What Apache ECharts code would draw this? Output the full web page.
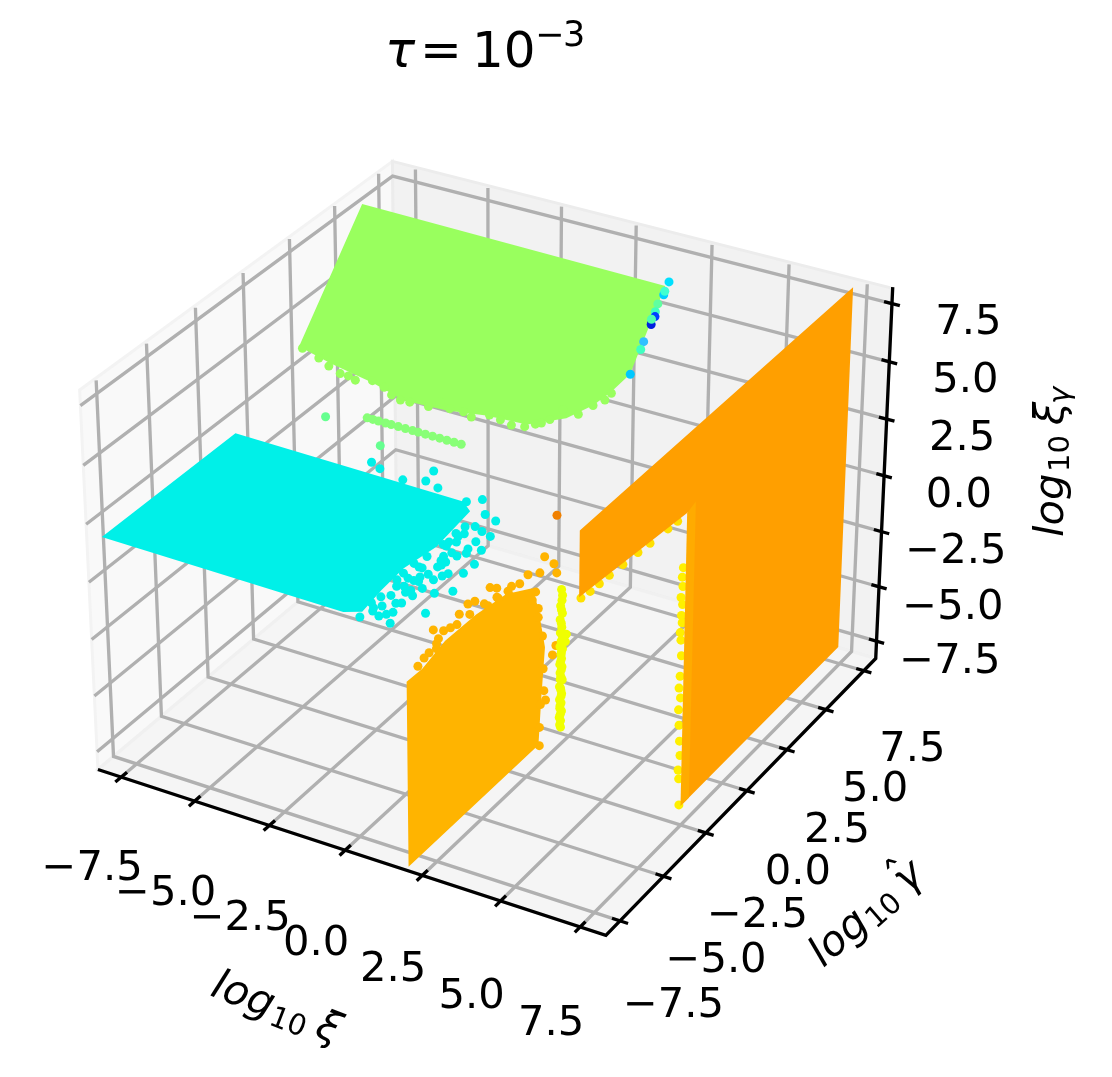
<!DOCTYPE html>
<html>
<head>
<meta charset="utf-8">
<title>tau 1e-3</title>
<style>
html, body { margin: 0; padding: 0; background: #fff; }
#chart { width: 1112px; height: 1077px; }
</style>
<script src="https://cdn.jsdelivr.net/npm/echarts@6/dist/echarts.min.js"></script>
</head>
<body>
<div id="chart"></div>
<script>
// axis ticks
var tickValues = [-7.5, -5, -2.5, 0, 2.5, 5, 7.5];
var tickLabels = ['\u22127.5', '\u22125.0', '\u22122.5', '0.0', '2.5', '5.0', '7.5'];

// cyan sheet, flat at cyanZ
var cyanZ = 1.87;
var cyanSheetX = [-8, -8, -0.29, 0.16, 0.35, 0.17, 0.25, 0.39, -0.05];
var cyanSheetY = [-8, -1.1, -1.24, -1.62, -3.8, -5.27, -6.57, -7.83, -8.1];
var cyanDotX = [0.13, 0.62, 1.06, 1.36, 1.53, 1.75, 1.73, 1.97, 1.59, 1.92, 1.36, 0.62, 0.48, 0.48, 0.57, -1.9, -1.8, -1.3, -0.2, 1.17, 1.14, 0.95, 1.03, 0.94, 0.92, 0.89, 0.55, 1.1, 1.38, -3.7, -3.3, -2.4, 1.02, 1.16, 1.17, 0.89, 0.79, 0.88, 1.13, 0.45, 0.7, 0.4, 1.25, 0.6, 0.8, 0.5, 0.95, 1.2, 0.7, 0.9, 0.55, 0.85, 1.3, 0.72, 0.66, 0.58, 0.52, 1, 0.98, 0.75, 0.68, 0.62, 1.08, 0.42, 0.36, 0.33, 0.3, 0.28, 0.5, 0.45];
var cyanDotY = [-0.88, -1.57, -1.74, -2.56, -3.35, -4.11, -4.68, -5.66, -6.01, -7.04, -7.97, -7.66, -8.1, -2.45, -3.63, -0.15, -0.76, -0.93, -1.21, -5.95, -6.42, -6.99, -7.62, -4.74, -5.21, -5.68, -5.67, -3.96, -4.91, -0.6, -0.8, -1.03, -2.44, -3.02, -3.47, -3.88, -4.16, -6.36, -7.44, -2.9, -3.3, -4.4, -3.7, -5, -5.45, -6.2, -6.2, -5.4, -7.3, -7.8, -7.5, -4.4, -5.1, -2.3, -2.8, -3, -3.4, -4.4, -4.6, -5.7, -6.1, -6.7, -6.9, -6.9, -7.3, -5.9, -5.5, -4.9, -5, -3.6];

// green sheet, tilted
var greenSheetX = [-8.15, 2.05, 2.08, 1.74, 1.38, 0.73, -0.4, -1.76, -3.04, -4.42, -5.59, -7.07, -8.25];
var greenSheetY = [6.3, 6.3, 4.18, 3.67, 3.29, 2.88, 2.59, 2.59, 2.45, 2.41, 2.59, 2.7, 2.81];
var greenSheetZ = [7.45, 7.3, 4.79, 4.2, 3.75, 3.2, 2.7, 2.6, 2.45, 2.4, 2.65, 2.9, 3.18];
var greenDotX = [-8.12, -7.07, -6.62, -6.34, -6.07, -5.54, -4.44, -4.13, -3.51, -2.84, -2.09, -1.57, -0.79, -0.38, 0.07, 0.28, 1.05, 1.38, 1.77, 1.66, -5.1, -3.22, 0.54, -7.5, -4.8, -2.4, -1.2, -0.1];
var greenDotY = [2.79, 2.56, 2.46, 2.46, 2.41, 2.5, 2.25, 2.26, 2.28, 2.36, 2.31, 2.46, 2.37, 2.42, 2.6, 2.72, 3.01, 3.28, 3.65, 3.47, 2.43, 2.45, 3.02, 2.7, 2.35, 2.4, 2.45, 2.55];
var greenDotZ = [3.16, 2.88, 2.77, 2.77, 2.71, 2.82, 2.52, 2.53, 2.55, 2.65, 2.59, 2.77, 2.67, 2.72, 2.93, 3.08, 3.41, 3.74, 4.18, 3.96, 2.73, 2.75, 3.43, 3, 2.55, 2.65, 2.7, 2.85];

// odd coloured points on the green sheet's right edge
var edgeDotX = [2.11, 2.11, 2.1, 2.05, 2.07, 2.12, 2.1, 2.05, 2.09, 2.1, 2.09];
var edgeDotY = [6.41, 6.1, 6.18, 5.86, 5.68, 5.57, 5.38, 5.49, 4.96, 4.77, 4.18];
var edgeDotZ = [7.43, 7.06, 7.16, 6.79, 6.57, 6.44, 6.21, 6.35, 5.72, 5.5, 4.79];
var edgeDotColor = ['#00e0ff', '#00d0ff', '#40ffd0', '#60ffa0', '#40ffc0', '#0040ff', '#0020e0', '#50ffb0', '#30c0ff', '#40ffc0', '#00c8ff'];

// thin green streak and the two strays
var streakX = [-7.9, -7.7, -7.5, -7.25, -7.05, -6.8, -6.55, -6.3, -6.1, -5.85, -5.6, -5.35, -5.1, -4.85, -4.6];
var strayX = [-8, -8];
var strayY = [3.8, 6.9];
var strayZ = [-0.5, -3.8];

// left orange sheet, flat at x = leftX
var leftX = 2;
var leftSheetY = [-8.2, -0.9, -0.75, -0.55, -0.95, -1.3, -2.77, -4.45, -6.14, -7.37, -8.2];
var leftSheetZ = [-8.22, -8.26, -6.26, -4.11, -2.1, -0.98, -0.22, 0.05, 0.11, -0.22, -0.18];
var leftDotY = [-6.77, -6.61, -7.27, -4.9, -4.52, -3.68, -3.31, -2.68, -2.48, -2.02, -1.55, -1.11, -3.8, -3.23, -5.37, -5.85, -6.22, -6.5, -0.95, 0.09, -0.11, -0.5, -0.6, -0.85, -0.6, -0.06, -0.87, 0.11, -7.6, -7, -6.6, -5.5, -4.8, -4, -3.3, -2.6, -1.9, -1.3, -0.95, -0.7, -0.65, -0.8, -0.85];
var leftDotZ = [1.01, 0.1, 0.17, 0.81, 0.67, 0.68, 0.4, -0.16, -0.09, -0.29, -0.22, -1.27, -0.02, -0.09, 0.7, 0.46, 0.59, 0.45, -2.11, -4.48, -4.76, -6.51, -6.02, -8.33, -0.08, -0.75, -0.6, -1.27, 0.05, 0.2, 0.3, 0.35, 0.3, 0.2, 0, -0.4, -0.9, -1.5, -2.5, -3.5, -5, -6.5, -7.5];

// yellow sliver in the middle
var sliverX = 2;
var sliverY = [0.4, 0.35, 0.4, 0.32, 0.45, 0.35, 0.42, 0.33, 0.45, 0.4, 0.32, 0.48, 0.4, 0.35, 0.46, 0.33, 0.43, 0.4, 0.48, 0.33, 0.4, 0.46, 0.35, 0.43, 0.4, 0.33, 0.46, 0.4, 0.35, 0.43, 0.46, 0.4, 0.65, 0.7, 0.38, 0.36, 0.42, 0.38, 0.36, 0.42, 0.38, 0.42];
var sliverZ = [-8.4, -8.25, -8.1, -7.9, -7.7, -7.5, -7.3, -7.1, -6.9, -6.7, -6.5, -6.3, -6.1, -5.9, -5.7, -5.5, -5.3, -5.1, -4.9, -4.7, -4.5, -4.3, -4.1, -3.9, -3.7, -3.5, -3.3, -3.1, -2.9, -2.7, -2.5, -2.2, -4.7, -4.4, -7.8, -7.4, -7, -6.6, -6.2, -5.8, -5.4, -5];

// big right orange sheet, flat at x = rightX
var rightX = 7.2;
var rightSheetY = [8, 8, -1.8, -1.9, -8, -8];
var rightSheetZ = [8, -8, -8, 4.7, 5.3, 8];
var bandY = [-1.95, -1.45, -1.45, -1.95];
var bandZ = [-8, -8, 4.85, 4.7];
var notchY = [-2.1, -2.15, -2.1, -2.2, -2.1, -2.15, -2.1, -2.2, -2.15, -2.1, -2.15, -2.2, -2.1, -2.2, -2.15, -2.1, -2.05, -2.15, -2.1, -2.05];
var notchZ = [2.5, 2.13, 1.7, 1.3, 0.93, 0.5, 0.15, -0.2, -0.56, -1.27, -2.12, -2.6, -3.1, -3.55, -4.26, -5.0, -5.67, -6.24, -6.67, -7.87];
var underY = [-7.9, -7.4, -6.9, -6.35, -5.6, -4.76, -4.08, -3.06, -2.5];
var underZ = [5.2, 5.13, 5.1, 5.07, 5, 4.93, 4.86, 4.77, 4.72];
var loneDot = [5.4, -6, 6.6];

// matplotlib style view: elev 30, azim -60, half box 8.3
var L = 8.3;
var Ltop = 8.05;
var paneTop = 8.15;
function project(x, y, z) {
  var cx = x / L * 0.595, cy = y / L * 0.595, cz = z / L * 0.4465;
  var X = 0.866 * cx + 0.5 * cy;
  var Y = -0.25 * cx + 0.433 * cy + 0.866 * cz;
  var D = 0.433 * cx - 0.75 * cy + 0.5 * cz;
  return [X / (10 - D), Y / (10 - D)];
}

function zip3(a, b, c) {
  return a.map(function (v, i) { return [v, b[i], c[i]]; });
}
function withX(x, ys, zs) {
  return ys.map(function (y, i) { return [x, y, zs[i]]; });
}
function withZ(xs, ys, z) {
  return xs.map(function (x, i) { return [x, ys[i], z]; });
}

function shapes(type, list, style, z) {
  return {
    type: 'custom',
    coordinateSystem: 'cartesian2d',
    silent: true,
    z: z,
    data: list.map(function (p, i) { return [i]; }),
    renderItem: function (params, api) {
      var pts = list[params.dataIndex].map(function (p) {
        return api.coord(project(p[0], p[1], p[2]));
      });
      return { type: type, shape: { points: pts }, style: style };
    }
  };
}

function dots(points, color, z) {
  return {
    type: 'scatter',
    silent: true,
    symbol: 'circle',
    symbolSize: 9,
    z: z,
    itemStyle: { color: color, opacity: 1 },
    data: points.map(function (p) { return project(p[0], p[1], p[2]); })
  };
}

function labels(list) {
  return {
    type: 'custom',
    coordinateSystem: 'cartesian2d',
    silent: true,
    z: 20,
    data: list.map(function (p, i) { return [i]; }),
    renderItem: function (params, api) {
      var it = list[params.dataIndex];
      var c = api.coord(project(it.p[0], it.p[1], it.p[2]));
      return {
        type: 'text',
        x: c[0], y: c[1],
        style: { text: it.t, fontFamily: 'DejaVu Sans', fontSize: 41.67, fill: '#000', align: 'center', verticalAlign: 'middle' }
      };
    }
  };
}

// panes, grid lines, axis lines, ticks
var xGrid = [], yGrid = [], zGrid = [], tickLines = [], tickText = [];
tickValues.forEach(function (t, i) {
  xGrid.push([[t, -L, -L], [t, L, -L], [t, L, Ltop]]);
  yGrid.push([[L, t, -L], [-L, t, -L], [-L, t, Ltop]]);
  zGrid.push([[-L, -L, t], [-L, L, t], [L, L, t]]);
  tickLines.push([[t, -L - 0.3, -L], [t, -L + 0.3, -L]]);
  tickLines.push([[L - 0.25, t, -L], [L + 0.25, t, -L]]);
  tickLines.push([[L - 0.25, L, t], [L + 0.25, L, t]]);
  tickText.push({ t: tickLabels[i], p: [t + 0.15, -L - 1.85, -L - 2.7] });
  tickText.push({ t: tickLabels[i], p: [L + 1.7, t, -L - 3] });
  tickText.push({ t: tickLabels[i], p: [L + 2.4, L, t] });
});
var spines = [[[-L, -L, -L], [L, -L, -L], [L, L, -L], [L, L, 8.2]]];

var gridStyle = { stroke: '#b0b0b0', lineWidth: 3.33, fill: 'none' };
var blackStyle = { stroke: '#000', lineWidth: 3.33, fill: 'none' };

var edgeDots = {
  type: 'scatter', silent: true, symbolSize: 9, z: 12,
  data: zip3(edgeDotX, edgeDotY, edgeDotZ).map(function (p, i) {
    return { value: project(p[0], p[1], p[2]), itemStyle: { color: edgeDotColor[i], opacity: 1 } };
  })
};

var series = [
  shapes('polygon', [[[-L, -L, -L], [-L, L, -L], [-L, L, paneTop], [-L, -L, paneTop]]], { fill: '#f9f9f9', stroke: '#f3f3f3', lineWidth: 3 }, 1),
  shapes('polygon', [[[-L, L, -L], [L, L, -L], [L, L, paneTop], [-L, L, paneTop]]], { fill: '#f2f2f2', stroke: '#ececec', lineWidth: 3 }, 1),
  shapes('polygon', [[[-L, -L, -L], [L, -L, -L], [L, L, -L], [-L, L, -L]]], { fill: '#f5f5f5', stroke: '#f0f0f0', lineWidth: 3 }, 1),
  shapes('polyline', xGrid.concat(yGrid, zGrid), gridStyle, 2),
  shapes('polyline', spines, blackStyle, 3),
  shapes('polyline', tickLines, blackStyle, 3),
  labels(tickText),

  shapes('polygon', [withZ(cyanSheetX, cyanSheetY, cyanZ)], { fill: '#00f0e8' }, 10),
  dots(withZ(cyanDotX, cyanDotY, cyanZ), '#00f0e8', 10),

  shapes('polygon', [zip3(greenSheetX, greenSheetY, greenSheetZ)], { fill: '#99ff5e' }, 11),
  dots(zip3(greenDotX, greenDotY, greenDotZ), '#99ff5e', 11),
  dots(streakX.map(function (x) { return [x, 6, -1.9]; }), '#88ff77', 11),
  dots(zip3(strayX, strayY, strayZ), '#66ff90', 11),
  edgeDots,

  shapes('polygon', [withX(leftX, leftSheetY, leftSheetZ)], { fill: '#ffb400' }, 13),
  dots(withX(leftX, leftDotY, leftDotZ), '#ffb400', 13),

  dots(withX(sliverX, sliverY, sliverZ), '#f0ff00', 14),

  dots(withX(rightX, notchY, notchZ), '#fff000', 15),
  dots(withX(rightX, underY, underZ), '#ffe000', 15),
  shapes('polygon', [withX(rightX, rightSheetY, rightSheetZ)], { fill: '#ff9f00' }, 16),
  shapes('polygon', [withX(rightX, bandY, bandZ)], { fill: '#ffab00' }, 16),
  dots([loneDot], '#f08000', 16)
];

// text with sub/superscripts built from pieces
function piece(t, dx, dy, size, italic) {
  return {
    type: 'text', x: dx, y: dy,
    style: {
      text: t, fontFamily: 'DejaVu Sans', fontSize: size,
      fontStyle: italic ? 'italic' : 'normal', fill: '#000',
      align: 'left', verticalAlign: 'middle'
    }
  };
}
function axisName(x, y, rot, last) {
  var kids = [
    piece('log', 0, 0, 41.67, true),
    piece('10', 65, 9, 29, false)
  ].concat(last);
  return { type: 'group', x: x, y: y, rotation: rot, children: kids };
}

var graphic = [
  { type: 'group', x: 385, y: 54, children: [
    piece('\u03c4', 0, 0, 50, true),
    piece('=', 35, 0, 50, false),
    piece('10', 87, 0, 50, false),
    piece('\u2212', 150, -17, 35, false),
    piece('3', 178, -17, 35, false)
  ] },
  axisName(213, 985, -0.37, [piece('\u03be', 112, 0, 41.67, true)]),
  axisName(816, 960, 0.72, [piece('\u03b3', 112, 0, 41.67, true), piece('\u02c6', 109, -6, 41.67, false)]),
  axisName(1052, 537, Math.PI / 2, [piece('\u03be', 112, 0, 41.67, true), piece('\u03b3', 133, 9, 29, true)])
];

var chart = echarts.init(document.getElementById('chart'));
chart.setOption({
  animation: false,
  backgroundColor: '#fff',
  grid: { left: 0, right: 0, top: 0, bottom: 0 },
  // axis ranges chosen so the projected box lands where it sits in the figure
  xAxis: { type: 'value', show: false, min: -0.10102, max: 0.12638 },
  yAxis: { type: 'value', show: false, min: -0.11227, max: 0.10798 },
  graphic: { elements: graphic },
  series: series
});
</script>
</body>
</html>
